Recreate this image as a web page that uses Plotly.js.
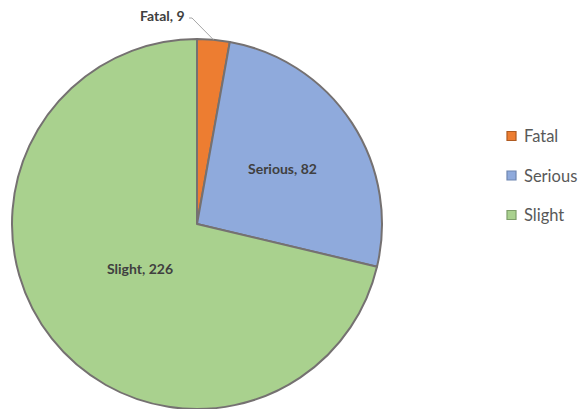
<!DOCTYPE html>
<html><head><meta charset="utf-8">
<script src="https://cdn.plot.ly/plotly-3.0.1.min.js"></script>
<style>html,body{margin:0;padding:0;background:#fff}#chart{width:581px;height:409px}</style>
</head><body><div id="chart"></div>
<script>
const categories = ["Fatal", "Serious", "Slight"];
const values = [9, 82, 226];
const colors = ["#ED7D31", "#8FAADC", "#A9D18E"];
const legendBorders = ["#AE5A21", "#6F86B0", "#7E9E6A"];

const W = 581, H = 409;
const cx = 197, cy = 224, R = 185;

const pie = {
  type: "pie",
  labels: categories,
  values: values,
  sort: false,
  direction: "clockwise",
  rotation: 0,
  textinfo: "none",
  textposition: "none",
  hoverinfo: "label+value",
  showlegend: false,
  marker: { colors: colors, line: { color: "#757171", width: 2 } },
  domain: { x: [(cx - R) / W, (cx + R) / W], y: [(H - cy - R) / H, (H - cy + R) / H] }
};

const total = values.reduce((a, b) => a + b, 0);
const radialFrac = [1.0, 0.55, 0.39];
const labelFont = { family: "Lato, sans-serif", size: 14, color: "#404040" };
let cum = 0;
const annotations = [];
const shapes = [];
values.forEach((v, i) => {
  const mid = (cum + v / 2) / total * 2 * Math.PI;
  cum += v;
  const ex = cx + R * Math.sin(mid), ey = cy - R * Math.cos(mid);
  const txt = "<b>" + categories[i] + ", " + v + "</b>";
  if (i === 0) {
    const tx = 187, ty = 15;
    const px = (x) => x / W, py = (y) => 1 - y / H;
    shapes.push({
      type: "path", xref: "paper", yref: "paper",
      path: "M" + px(tx + 2) + "," + py(ty + 3) + " L" + px(tx + 5) + "," + py(ty + 3) + " L" + px(ex) + "," + py(ey),
      line: { color: "#A6A6A6", width: 1 }
    });
    annotations.push({
      xref: "paper", yref: "paper", x: tx / W, y: 1 - ty / H, xanchor: "right", yanchor: "middle",
      text: txt, showarrow: false, font: labelFont
    });
  } else {
    const lx = cx + radialFrac[i] * R * Math.sin(mid), ly = cy - radialFrac[i] * R * Math.cos(mid);
    annotations.push({
      xref: "paper", yref: "paper", x: lx / W, y: 1 - ly / H, xanchor: "center", yanchor: "middle",
      text: txt, showarrow: false, font: labelFont
    });
  }
});

// manual legend
const legX = 507, legY0 = 136, legStep = 39.5, sq = 9;
categories.forEach((c, i) => {
  const y = legY0 + i * legStep;
  shapes.push({
    type: "rect", xref: "paper", yref: "paper",
    x0: legX / W, x1: (legX + sq) / W, y0: 1 - (y - sq / 2) / H, y1: 1 - (y + sq / 2) / H,
    fillcolor: colors[i], line: { color: legendBorders[i], width: 1.2 }
  });
  annotations.push({
    xref: "paper", yref: "paper", x: (legX + sq + 6) / W, y: 1 - y / H, xanchor: "left", yanchor: "middle",
    text: c, showarrow: false, font: { family: "Lato, sans-serif", size: 16.5, color: "#595959" }
  });
});

const layout = {
  width: W, height: H,
  margin: { l: 0, r: 0, t: 0, b: 0 },
  paper_bgcolor: "#ffffff",
  showlegend: false,
  annotations: annotations,
  shapes: shapes
};

Plotly.newPlot("chart", [pie], layout, { displayModeBar: false, staticPlot: true });
</script></body></html>
